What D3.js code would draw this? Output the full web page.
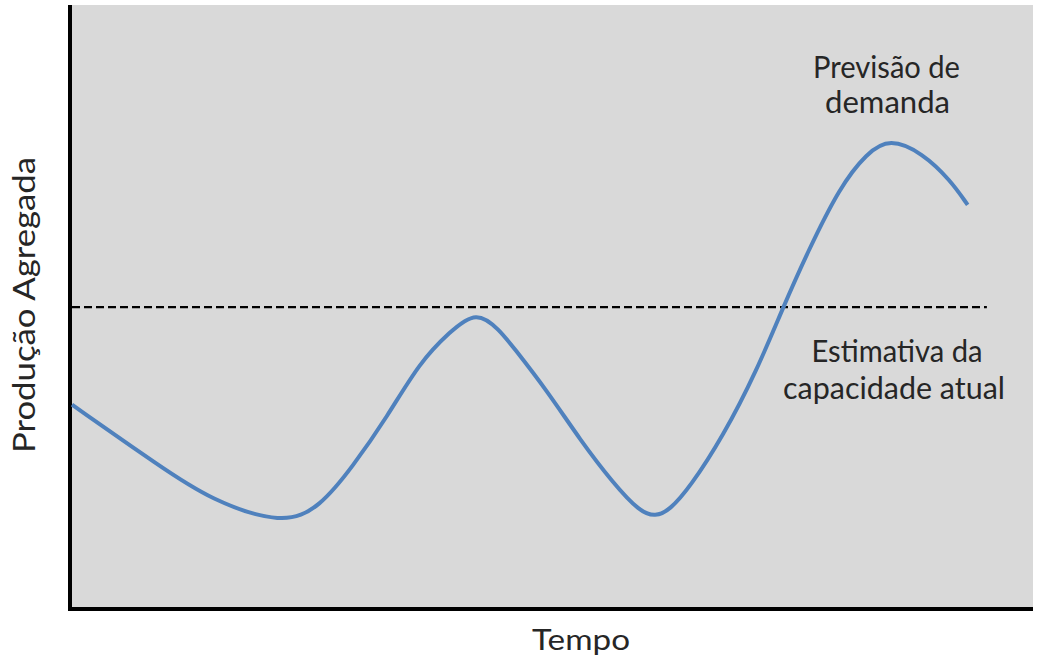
<!DOCTYPE html>
<html><head><meta charset="utf-8">
<script src="https://cdn.jsdelivr.net/npm/d3@7"></script>
<style>html,body{margin:0;padding:0;background:#fff;}svg{display:block;}</style>
</head><body>
<svg id="c" width="1037" height="661"></svg>
<script>
const time = [0, 9.2, 14.4, 22.0, 25.8, 29.2, 32.8, 36.2, 39.3, 42.1, 44.5, 45.9, 49.4, 52.9, 56.3, 59.1, 60.7, 62.2, 64.3, 67.7, 71.3, 74.0, 76.5, 79.9, 82.7, 85.1, 88.5, 91.4, 93.2];
const demand = [33.6, 23.3, 17.8, 13.6, 16.6, 23.3, 31.6, 40.7, 45.7, 49.3, 46.0, 43.2, 36.0, 27.7, 20.6, 15.8, 15.0, 16.1, 19.9, 28.2, 39.4, 49.8, 58.8, 69.8, 75.4, 77.9, 75.4, 70.9, 66.8];
const capacity = 49.8;
const capacityEnd = 95.2;
const demandLabel = ["Previsão de", "demanda"];
const capacityLabel = ["Estimativa da", "capacidade atual"];
const xTitle = "Tempo";
const yTitle = "Produção Agregada";

const svg = d3.select("#c");
const pL = 72, pR = 1033, pT = 5, pB = 607;
const x = d3.scaleLinear().domain([0, 100]).range([pL, pR]);
const y = d3.scaleLinear().domain([0, 100]).range([pB, pT]);
const font = "Lato, 'Open Sans', sans-serif";

svg.append("rect").attr("x", pL).attr("y", pT).attr("width", pR - pL).attr("height", pB - pT).attr("fill", "#d9d9d9");

// axes
svg.append("line").attr("x1", 70).attr("x2", 70).attr("y1", pT).attr("y2", 611).attr("stroke", "#000").attr("stroke-width", 4);
svg.append("line").attr("x1", 68).attr("x2", pR).attr("y1", 609).attr("y2", 609).attr("stroke", "#000").attr("stroke-width", 4);

// capacity dashed
svg.append("line").attr("x1", x(0)).attr("x2", x(capacityEnd)).attr("y1", y(capacity)).attr("y2", y(capacity))
  .attr("stroke", "#000").attr("stroke-width", 2.2).attr("stroke-dasharray", "8,4");

const pts = time.map((t, i) => [t, demand[i]]);
svg.append("path").datum(pts)
  .attr("d", d3.line().x(d => x(d[0])).y(d => y(d[1])).curve(d3.curveBasis))
  .attr("fill", "none").attr("stroke", "#4f81bd").attr("stroke-width", 4).attr("stroke-linecap", "butt");

function txt(s, tx, ty, size, len, rot) {
  const t = svg.append("text")
    .attr("transform", `translate(${tx},${ty})` + (rot ? ` rotate(${rot})` : ""))
    .attr("text-anchor", "middle").attr("font-family", font).attr("font-size", size).attr("fill", "#262626").text(s);
  if (len) t.attr("textLength", len).attr("lengthAdjust", "spacingAndGlyphs");
  return t;
}
txt(demandLabel[0], 886.5, 78, 30, 147);
txt(demandLabel[1], 887.5, 113, 30, 125);
txt(capacityLabel[0], 897, 362, 30, 171);
txt(capacityLabel[1], 894, 399, 30, 222);
txt(xTitle, 581, 650, 29, 98);
txt(yTitle, 35, 305, 30, 296, -90);
</script>
</body></html>
